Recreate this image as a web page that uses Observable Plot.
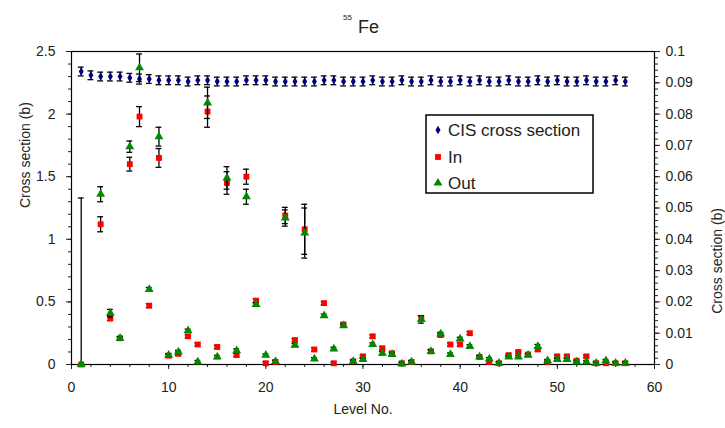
<!DOCTYPE html>
<html>
<head>
<meta charset="utf-8">
<script src="https://cdn.jsdelivr.net/npm/d3@7"></script>
<script src="https://cdn.jsdelivr.net/npm/@observablehq/plot@0.6"></script>
<style>
  body { margin: 0; background: #fff; }
  #chart svg { display: block; }
</style>
</head>
<body>
<div id="chart"></div>
<script>
// Level numbers of 55Fe
const levels = [1, 2, 3, 4, 5, 6, 7, 8, 9, 10, 11, 12, 13, 14, 15, 16, 17, 18, 19, 20,
  21, 22, 23, 24, 25, 26, 27, 28, 29, 30, 31, 32, 33, 34, 35, 36, 37, 38, 39, 40,
  41, 42, 43, 44, 45, 46, 47, 48, 49, 50, 51, 52, 53, 54, 55, 56, 57];

// CIS cross section (b), primary axis
const cisValues = [2.34, 2.31, 2.30, 2.30, 2.30, 2.29, 2.28, 2.28, 2.27, 2.27,
  2.27, 2.26, 2.27, 2.27, 2.26, 2.26, 2.26, 2.27, 2.27, 2.27,
  2.26, 2.26, 2.26, 2.26, 2.26, 2.27, 2.27, 2.26, 2.26, 2.26,
  2.27, 2.26, 2.26, 2.27, 2.26, 2.26, 2.27, 2.26, 2.26, 2.27,
  2.26, 2.27, 2.26, 2.26, 2.27, 2.26, 2.26, 2.27, 2.26, 2.27,
  2.26, 2.26, 2.27, 2.26, 2.26, 2.27, 2.26];
const cisErrors = [0.035, 0.035, 0.035, 0.035, 0.035, 0.035, 0.04, 0.035, 0.035, 0.035,
  0.035, 0.035, 0.035, 0.035, 0.035, 0.035, 0.035, 0.035, 0.035, 0.035,
  0.035, 0.035, 0.035, 0.035, 0.035, 0.035, 0.035, 0.035, 0.035, 0.035,
  0.035, 0.035, 0.035, 0.035, 0.035, 0.035, 0.035, 0.035, 0.035, 0.035,
  0.035, 0.035, 0.035, 0.035, 0.035, 0.035, 0.035, 0.035, 0.035, 0.035,
  0.035, 0.035, 0.035, 0.035, 0.035, 0.035, 0.035];

// "In" and "Out" cross sections (b), secondary axis; null where no value
const inValues = [0, null, 0.0448, 0.0148, 0.0084, 0.0640, 0.0792, 0.0188, 0.0660, 0.0028,
  0.0034, 0.0090, 0.0064, 0.0808, 0.0056, 0.0580, 0.0030, 0.0600, 0.0204, 0.0004,
  0.0008, 0.0476, 0.0078, 0.0432, 0.0048, 0.0196, 0.0004, 0.0128, 0.0010, 0.0026,
  0.0090, 0.0052, 0.0036, 0.0004, 0.0008, 0.0148, 0.0042, 0.0094, 0.0064, 0.0064,
  0.0100, 0.0024, 0.0008, 0.0004, 0.0030, 0.0040, 0.0032, 0.0048, 0.0008, 0.0026,
  0.0026, 0.0012, 0.0026, 0.0004, 0.0004, 0.0004, 0.0004];
const inErrors = [0, null, 0.0024, 0.0008, 0.0005, 0.0022, 0.0032, 0.0006, 0.0030, 0.0005,
  0.0005, 0.0005, 0.0005, 0.0050, 0.0005, 0.0036, 0.0005, 0.0024, 0.0006, 0.0004,
  0.0004, 0.0026, 0.0005, 0.0080, 0.0005, 0.0005, 0.0004, 0.0005, 0.0004, 0.0004,
  0.0005, 0.0005, 0.0005, 0.0004, 0.0004, 0.0008, 0.0005, 0.0005, 0.0005, 0.0005,
  0.0005, 0.0004, 0.0004, 0.0004, 0.0004, 0.0004, 0.0004, 0.0005, 0.0004, 0.0004,
  0.0004, 0.0004, 0.0004, 0.0004, 0.0004, 0.0004, 0.0004];
const outValues = [0, null, 0.0544, 0.0164, 0.0084, 0.0696, 0.0948, 0.0240, 0.0728, 0.0030,
  0.0040, 0.0108, 0.0008, 0.0836, 0.0024, 0.0596, 0.0044, 0.0536, 0.0192, 0.0030,
  0.0010, 0.0468, 0.0062, 0.0420, 0.0018, 0.0156, 0.0050, 0.0124, 0.0010, 0.0016,
  0.0064, 0.0036, 0.0032, 0.0002, 0.0008, 0.0144, 0.0042, 0.0098, 0.0032, 0.0082,
  0.0058, 0.0024, 0.0018, 0.0004, 0.0024, 0.0024, 0.0030, 0.0058, 0.0012, 0.0016,
  0.0016, 0.0008, 0.0008, 0.0004, 0.0012, 0.0004, 0.0004];
const outErrors = [0.0532, null, 0.0024, 0.0012, 0.0005, 0.0018, 0.0044, 0.0006, 0.0030, 0.0005,
  0.0005, 0.0005, 0.0005, 0.0050, 0.0005, 0.0036, 0.0006, 0.0024, 0.0005, 0.0004,
  0.0004, 0.0026, 0.0005, 0.0080, 0.0004, 0.0005, 0.0005, 0.0005, 0.0004, 0.0004,
  0.0005, 0.0005, 0.0005, 0.0004, 0.0004, 0.0012, 0.0005, 0.0005, 0.0005, 0.0005,
  0.0005, 0.0004, 0.0004, 0.0004, 0.0004, 0.0004, 0.0004, 0.0006, 0.0004, 0.0004,
  0.0004, 0.0004, 0.0004, 0.0004, 0.0004, 0.0004, 0.0004];

// Axis settings and tick labels
const primaryMax = 2.5;
const secondaryMax = 0.1;
const xTickLabels = [0, 10, 20, 30, 40, 50, 60];
const yTickLabels = [0, 0.5, 1, 1.5, 2, 2.5];
const y2TickLabels = [0, 0.01, 0.02, 0.03, 0.04, 0.05, 0.06, 0.07, 0.08, 0.09, 0.1];
const seriesNames = ["CIS cross section", "In", "Out"];
const seriesColors = ["#000080", "#ff0000", "#008a00"];

const k = primaryMax / secondaryMax; // secondary -> primary units

const rows = levels.map((level, i) => ({
  level,
  cis: cisValues[i], cisErr: cisErrors[i],
  inV: inValues[i], inErr: inErrors[i],
  outV: outValues[i], outErr: outErrors[i]
}));

const num = v => (v == null ? NaN : v);
const capHalf = 0.3; // half width of error-bar caps, in level units
const barWidth = 1.3;

function errorBars(val, err, scale) {
  const lo = d => Math.max(0, num(d[val]) - num(d[err])) * scale;
  const hi = d => (num(d[val]) + num(d[err])) * scale;
  return [
    Plot.ruleX(rows, {x: "level", y1: lo, y2: hi, stroke: "#000", strokeWidth: barWidth}),
    Plot.ruleY(rows, {y: hi, x1: d => d.level - capHalf, x2: d => d.level + capHalf, stroke: "#000", strokeWidth: barWidth}),
    Plot.ruleY(rows.filter(d => num(d[val]) - num(d[err]) > 0), {y: lo, x1: d => d.level - capHalf, x2: d => d.level + capHalf, stroke: "#000", strokeWidth: barWidth})
  ];
}

const xMinor = d3.range(0, 61, 2);
const yMinor = d3.range(0, 2.501, 0.1);
const y2Minor = d3.range(0, 0.1001, 0.002).map(v => v * k);

const chart = Plot.plot({
  width: 725,
  height: 428,
  marginLeft: 71,
  marginRight: 71,
  marginTop: 51,
  marginBottom: 64,
  x: {domain: [0, 60]},
  y: {domain: [0, primaryMax]},
  style: {fontFamily: "'Liberation Sans', Arial, sans-serif", fontSize: "14px", color: "#222", background: "#fff"},
  marks: [
    Plot.axisX({ticks: xMinor, tickSize: 3, tickFormat: () => "", label: null}),
    Plot.axisX({ticks: xTickLabels, tickSize: 5, tickPadding: 13, tickFormat: d => String(d), label: null}),
    Plot.axisY({anchor: "left", ticks: yMinor, tickSize: 3, tickFormat: () => "", label: null}),
    Plot.axisY({anchor: "left", ticks: yTickLabels, tickSize: 5, tickPadding: 11, tickFormat: d => String(d), label: null}),
    Plot.axisY({anchor: "right", ticks: y2Minor, tickSize: 3, tickFormat: () => "", label: null}),
    Plot.axisY({anchor: "right", ticks: y2TickLabels.map(v => v * k), tickSize: 5, tickPadding: 6,
      tickFormat: d => String(Math.round(d / k * 100) / 100), label: null}),
    Plot.frame({stroke: "#000", strokeWidth: 1.2}),
    Plot.text(["Cross section (b)"], {frameAnchor: "left", dx: -46, rotate: -90, fontSize: 14}),
    Plot.text(["Cross section (b)"], {frameAnchor: "right", dx: 63, rotate: -90, fontSize: 14}),
    Plot.text(["Level No."], {frameAnchor: "bottom", dy: 49, fontSize: 14}),
    // CIS cross section
    ...errorBars("cis", "cisErr", 1),
    Plot.dot(rows, {x: "level", y: "cis", symbol: "diamond", r: 2.6, fill: seriesColors[0]}),
    // In
    ...errorBars("inV", "inErr", k),
    Plot.dot(rows, {x: "level", y: d => num(d.inV) * k, symbol: "square", r: 3.3, fill: seriesColors[1]}),
    // Out
    ...errorBars("outV", "outErr", k),
    Plot.dot(rows, {x: "level", y: d => num(d.outV) * k, symbol: "triangle", r: 3.3, fill: seriesColors[2]})
  ]
});

document.getElementById("chart").appendChild(chart);

// Title with the mass number as a superscript
const svg = d3.select(chart);
const title = svg.append("text")
  .attr("x", 358).attr("y", 33)
  .attr("text-anchor", "start")
  .attr("font-family", "'Liberation Sans', Arial, sans-serif")
  .attr("fill", "#222");
title.append("tspan").attr("font-size", 8).attr("dy", -13).attr("x", 343).text("55");
title.append("tspan").attr("font-size", 18).attr("dy", 13).attr("x", 358).text("Fe");

// Legend box
const legend = svg.append("g")
  .attr("font-family", "'Liberation Sans', Arial, sans-serif")
  .attr("text-anchor", "start");
legend.append("rect")
  .attr("x", 426).attr("y", 115).attr("width", 167).attr("height", 78)
  .attr("fill", "#fff").attr("stroke", "#000").attr("stroke-width", 1.5);
const symbols = [d3.symbolDiamond, d3.symbolSquare, d3.symbolTriangle];
const legendRowsY = [130, 157, 183];
seriesNames.forEach((name, i) => {
  legend.append("path")
    .attr("transform", `translate(438,${legendRowsY[i]})`)
    .attr("d", d3.symbol(symbols[i], i === 0 ? 22 : 34)())
    .attr("fill", seriesColors[i]);
  legend.append("text")
    .attr("x", 448).attr("y", legendRowsY[i]).attr("dy", "0.35em")
    .attr("font-size", 17).attr("fill", "#222").text(name);
});
</script>
</body>
</html>
